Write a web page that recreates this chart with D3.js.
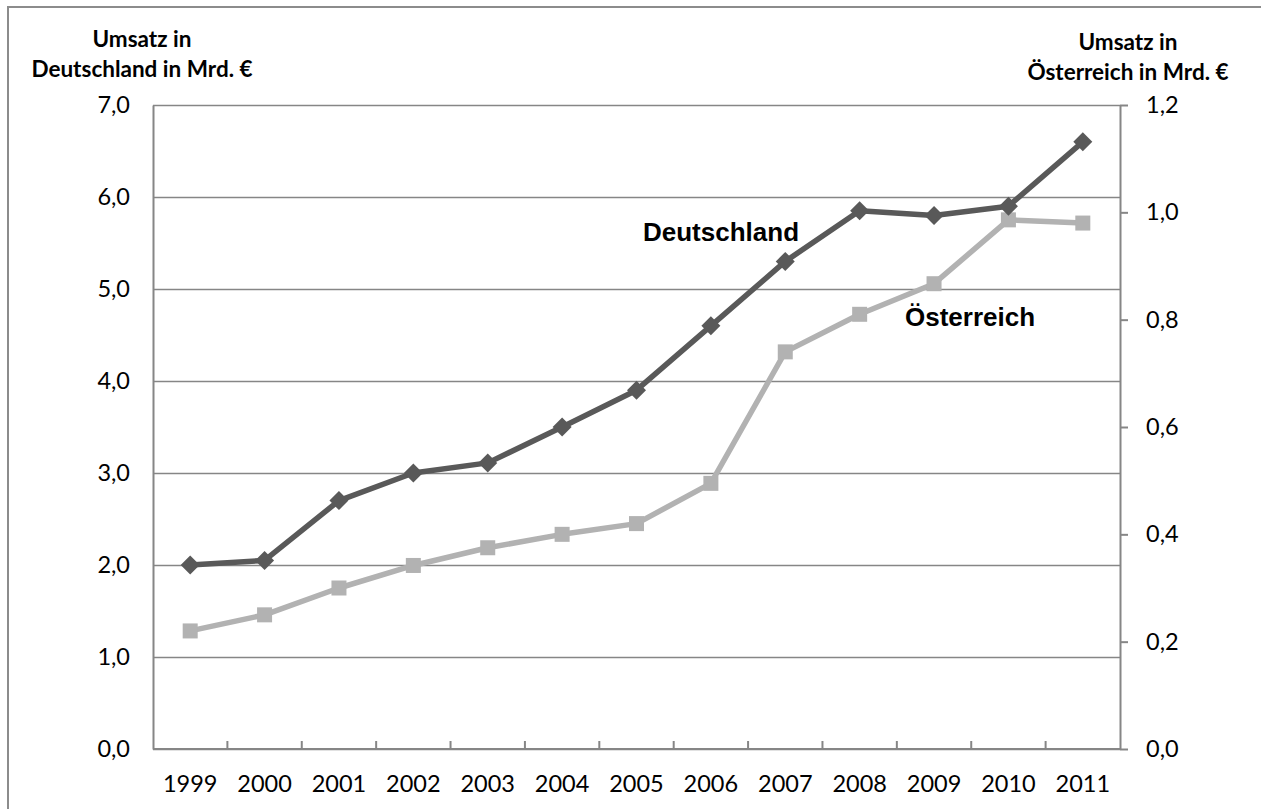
<!DOCTYPE html>
<html>
<head>
<meta charset="utf-8">
<script src="https://cdn.jsdelivr.net/npm/d3@7"></script>
<style>
  body { margin: 0; background: #fff; }
  svg { display: block; }
</style>
</head>
<body>
<svg id="chart" width="1261" height="809"></svg>
<script>
// Umsatz in Mrd. € — Deutschland (linke Achse) und Österreich (rechte Achse)
const years = ['1999', '2000', '2001', '2002', '2003', '2004', '2005', '2006', '2007', '2008', '2009', '2010', '2011'];
const deutschland = [2.0, 2.05, 2.7, 3.0, 3.11, 3.5, 3.9, 4.6, 5.3, 5.85, 5.8, 5.9, 6.6];
const oesterreich = [0.22, 0.25, 0.30, 0.342, 0.375, 0.40, 0.42, 0.495, 0.74, 0.81, 0.867, 0.986, 0.98];
const leftTicks = [0, 1, 2, 3, 4, 5, 6, 7];
const rightTicks = [0, 0.2, 0.4, 0.6, 0.8, 1.0, 1.2];
const leftTitle = ['Umsatz in', 'Deutschland in Mrd. €'];
const rightTitle = ['Umsatz in', 'Österreich in Mrd. €'];

const DARK = '#595959';
const LIGHT = '#b2b2b2';
const AXIS = '#868686';
const TICK_FONT = 'Lato, "Open Sans", sans-serif';
const TICK_SIZE = '23.5px';

const margin = { top: 105, right: 141, bottom: 60, left: 153 };
const W = 1261, H = 809;
const width = W - margin.left - margin.right;
const height = 749 - margin.top;

const svg = d3.select('#chart');

// outer frame (runs off the right and bottom edge)
svg.append('rect')
  .attr('x', 8).attr('y', 7)
  .attr('width', W + 20).attr('height', H + 20)
  .attr('fill', 'none')
  .attr('stroke', '#8c8c8c')
  .attr('stroke-width', 2);

const g = svg.append('g')
  .attr('transform', `translate(${margin.left},${margin.top})`);

// Scales
const x = d3.scaleBand().domain(years).range([0, width]);
const yL = d3.scaleLinear().domain([0, 7]).range([height, 0]);
const yR = d3.scaleLinear().domain([0, 1.2]).range([height, 0]);
const fmt = v => d3.format('.1f')(v).replace('.', ',');

// Grid
g.append('g')
  .call(d3.axisLeft(yL).tickValues(leftTicks).tickSize(-width).tickFormat(''))
  .call(s => s.select('.domain').remove())
  .selectAll('line')
  .attr('stroke', AXIS)
  .attr('stroke-width', 1.5);

// Left axis (no tick marks)
const leftAxis = g.append('g')
  .call(d3.axisLeft(yL).tickValues(leftTicks).tickSize(0).tickPadding(23).tickFormat(fmt));
leftAxis.select('.domain').attr('stroke', AXIS).attr('stroke-width', 2);
leftAxis.selectAll('text')
  .attr('font-family', TICK_FONT)
  .attr('font-size', TICK_SIZE)
  .attr('fill', '#000');

// Right axis
const rightAxis = g.append('g')
  .attr('transform', `translate(${width},0)`)
  .call(d3.axisRight(yR).tickValues(rightTicks).tickSize(8).tickSizeOuter(0).tickPadding(18).tickFormat(fmt));
rightAxis.select('.domain').attr('stroke', AXIS).attr('stroke-width', 2);
rightAxis.selectAll('line').attr('stroke', AXIS).attr('stroke-width', 2);
rightAxis.selectAll('text')
  .attr('font-family', TICK_FONT)
  .attr('font-size', TICK_SIZE)
  .attr('fill', '#000');

// Bottom axis: ticks point inward at the category boundaries
const bottom = g.append('g').attr('transform', `translate(0,${height})`);
bottom.append('line')
  .attr('x1', 0).attr('x2', width)
  .attr('stroke', AXIS).attr('stroke-width', 2);
bottom.selectAll('.bound')
  .data(years.slice(1))
  .enter()
  .append('line')
  .attr('x1', d => x(d)).attr('x2', d => x(d))
  .attr('y1', 0).attr('y2', -8)
  .attr('stroke', AXIS).attr('stroke-width', 2);
bottom.selectAll('.year')
  .data(years)
  .enter()
  .append('text')
  .attr('x', d => x(d) + x.bandwidth() / 2)
  .attr('y', 43)
  .attr('text-anchor', 'middle')
  .attr('font-family', TICK_FONT)
  .attr('font-size', TICK_SIZE)
  .attr('fill', '#000')
  .text(d => d);

// Lines
const cx = (d, i) => x(years[i]) + x.bandwidth() / 2;

g.append('path')
  .datum(oesterreich)
  .attr('fill', 'none')
  .attr('stroke', LIGHT)
  .attr('stroke-width', 5.5)
  .attr('stroke-linejoin', 'round')
  .attr('d', d3.line().x(cx).y(d => yR(d)));

g.selectAll('.sq')
  .data(oesterreich)
  .enter()
  .append('rect')
  .attr('x', (d, i) => cx(d, i) - 7.5)
  .attr('y', d => yR(d) - 7.5)
  .attr('width', 15).attr('height', 15)
  .attr('fill', LIGHT);

g.append('path')
  .datum(deutschland)
  .attr('fill', 'none')
  .attr('stroke', DARK)
  .attr('stroke-width', 5.5)
  .attr('stroke-linejoin', 'round')
  .attr('d', d3.line().x(cx).y(d => yL(d)));

const diamond = d3.symbol().type(d3.symbolDiamond2).size(230);
g.selectAll('.dia')
  .data(deutschland)
  .enter()
  .append('path')
  .attr('d', diamond)
  .attr('transform', (d, i) => `translate(${cx(d, i)},${yL(d)})`)
  .attr('fill', DARK);

// Series labels
svg.append('text')
  .attr('x', 643).attr('y', 241)
  .attr('font-family', '"Liberation Sans", Arial, sans-serif')
  .attr('font-weight', 'bold')
  .attr('font-size', '26px')
  .attr('fill', '#000')
  .text('Deutschland');

svg.append('text')
  .attr('x', 905).attr('y', 326)
  .attr('font-family', '"Liberation Sans", Arial, sans-serif')
  .attr('font-weight', 'bold')
  .attr('font-size', '26px')
  .attr('fill', '#000')
  .text('Österreich');

// Axis titles
function title(lines, cxPos, y0) {
  const t = svg.append('text')
    .attr('text-anchor', 'middle')
    .attr('font-family', TICK_FONT)
    .attr('font-weight', 'bold')
    .attr('font-size', '22.5px')
    .attr('fill', '#000');
  lines.forEach((l, i) => {
    t.append('tspan').attr('x', cxPos).attr('y', y0 + i * 30).text(l);
  });
}
title(leftTitle, 142, 47);
title(rightTitle, 1128, 50);
</script>
</body>
</html>
